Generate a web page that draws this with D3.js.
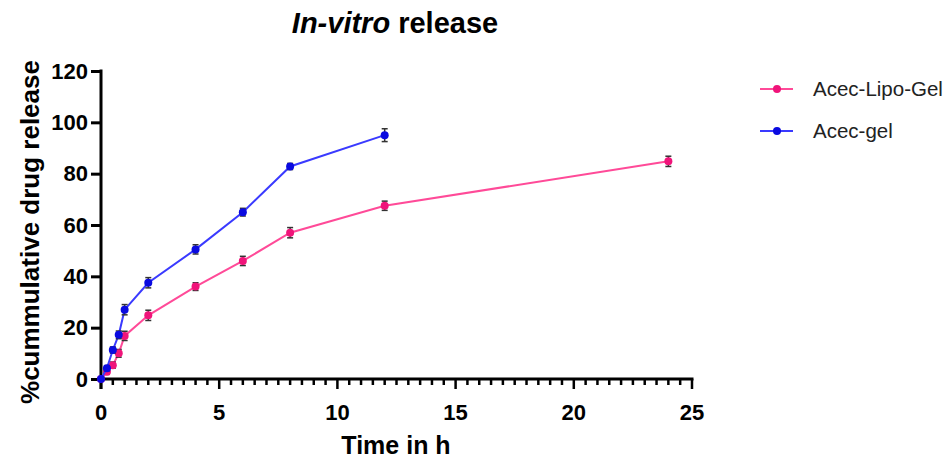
<!DOCTYPE html>
<html>
<head>
<meta charset="utf-8">
<script src="https://cdn.jsdelivr.net/npm/d3@7"></script>
<style>
  body { margin: 0; background: #fff; }
  text { font-family: "Liberation Sans", Arial, sans-serif; }
</style>
</head>
<body>
<div id="chart-area"></div>
<script>
// data
var times = [0, 0.25, 0.5, 0.75, 1, 2, 4, 6, 8, 12, 24];
var lipoGel = [0, 2.8, 5.4, 10, 16.8, 24.8, 36, 46, 57, 67.5, 84.8];
var lipoErr = [0.8, 1, 1.2, 1.5, 1.8, 2, 1.5, 1.8, 2, 1.8, 2];
var gelTimes = [0, 0.25, 0.5, 0.75, 1, 2, 4, 6, 8, 12];
var acecGel = [0, 4.2, 11.3, 17.2, 27, 37.5, 50.5, 65, 82.8, 95];
var gelErr = [0.8, 1, 1.2, 1.5, 2, 2, 1.8, 1.5, 1.2, 2.5];
var yTicks = [0, 20, 40, 60, 80, 100, 120];
var xTicks = [0, 5, 10, 15, 20, 25];

var series = [
  { name: "Acec-Lipo-Gel", x: times, y: lipoGel, e: lipoErr, line: "#ff4a98", dot: "#f0147a" },
  { name: "Acec-gel", x: gelTimes, y: acecGel, e: gelErr, line: "#3a3aff", dot: "#0a0ae0" }
];

var W = 949, H = 461;
var svg = d3.select("#chart-area").append("svg")
  .attr("width", W)
  .attr("height", H);

var x = d3.scaleLinear().domain([0, 25]).range([101, 692]);
var y = d3.scaleLinear().domain([0, 120]).range([379, 71]);

// x axis with minor ticks every 0.5
var minor = d3.range(0, 25.01, 0.5);
var xAxis = svg.append("g").attr("transform", "translate(0," + 379 + ")");
xAxis.append("line")
  .attr("x1", x(0) - 1.5).attr("x2", x(25) + 1.5)
  .attr("stroke", "#000").attr("stroke-width", 3);
xAxis.selectAll(".minor").data(minor).enter().append("line")
  .attr("x1", function(d) { return x(d); })
  .attr("x2", function(d) { return x(d); })
  .attr("y1", 0)
  .attr("y2", function(d) { return d % 5 === 0 ? 10 : 6; })
  .attr("stroke", "#000").attr("stroke-width", 2.5);
xAxis.selectAll(".lbl").data(xTicks).enter().append("text")
  .attr("x", function(d) { return x(d); })
  .attr("y", 41)
  .attr("text-anchor", "middle")
  .attr("font-size", "22px")
  .attr("font-weight", "bold")
  .text(function(d) { return d; });

// y axis
var yAxisCall = d3.axisLeft(y).tickValues(yTicks).tickSize(10).tickPadding(3);
var yAxis = svg.append("g")
  .attr("transform", "translate(" + 101 + ",0)")
  .call(yAxisCall);
yAxis.select(".domain").attr("stroke-width", 3).attr("d", "M0," + (y(120) - 1.5) + "V" + (379 + 10));
yAxis.selectAll(".tick line").attr("stroke-width", 3);
yAxis.selectAll(".tick text")
  .attr("font-size", "22px")
  .attr("font-weight", "bold")
  .attr("font-family", "Liberation Sans, Arial, sans-serif")
  .attr("fill", "#000");

// labels
svg.append("text")
  .attr("x", 396)
  .attr("y", 454)
  .attr("text-anchor", "middle")
  .attr("font-size", "25px")
  .attr("font-weight", "bold")
  .text("Time in h");

svg.append("text")
  .attr("transform", "translate(39,232) rotate(-90)")
  .attr("text-anchor", "middle")
  .attr("font-size", "26px")
  .attr("font-weight", "bold")
  .text("%cummulative drug release");

var title = svg.append("text")
  .attr("x", 395)
  .attr("y", 33)
  .attr("text-anchor", "middle")
  .attr("font-size", "29px")
  .attr("font-weight", "bold");
title.append("tspan").attr("font-style", "italic").text("In-vitro");
title.append("tspan").text(" release");

// series
var line = d3.line()
  .x(function(d) { return x(d[0]); })
  .y(function(d) { return y(d[1]); });

series.forEach(function(s) {
  var pts = s.x.map(function(t, i) { return [t, s.y[i], s.e[i]]; });
  var g = svg.append("g");
  g.append("path")
    .datum(pts)
    .attr("d", line)
    .attr("fill", "none")
    .attr("stroke", s.line)
    .attr("stroke-width", 2);
  var eb = g.selectAll(".eb").data(pts).enter().append("g");
  eb.append("line")
    .attr("x1", function(d) { return x(d[0]); })
    .attr("x2", function(d) { return x(d[0]); })
    .attr("y1", function(d) { return y(d[1] - d[2]); })
    .attr("y2", function(d) { return y(d[1] + d[2]); })
    .attr("stroke", "#333").attr("stroke-width", 1.5);
  [1, -1].forEach(function(sign) {
    eb.append("line")
      .attr("x1", function(d) { return x(d[0]) - 3; })
      .attr("x2", function(d) { return x(d[0]) + 3; })
      .attr("y1", function(d) { return y(d[1] + sign * d[2]); })
      .attr("y2", function(d) { return y(d[1] + sign * d[2]); })
      .attr("stroke", "#333").attr("stroke-width", 1.5);
  });
  g.selectAll("circle").data(pts).enter().append("circle")
    .attr("cx", function(d) { return x(d[0]); })
    .attr("cy", function(d) { return y(d[1]); })
    .attr("r", 4)
    .attr("fill", s.dot);
});

// legend
var legend = svg.selectAll(".legend").data(series).enter().append("g")
  .attr("transform", function(d, i) { return "translate(760," + (89 + i * 42) + ")"; });
legend.append("line")
  .attr("x1", 0).attr("x2", 33)
  .attr("stroke", function(d) { return d.line; })
  .attr("stroke-width", 2);
legend.append("circle")
  .attr("cx", 17).attr("r", 4)
  .attr("fill", function(d) { return d.dot; });
legend.append("text")
  .attr("x", 53)
  .attr("y", 7)
  .attr("font-size", "20.5px")
  .attr("fill", "#222")
  .text(function(d) { return d.name; });
</script>
</body>
</html>
